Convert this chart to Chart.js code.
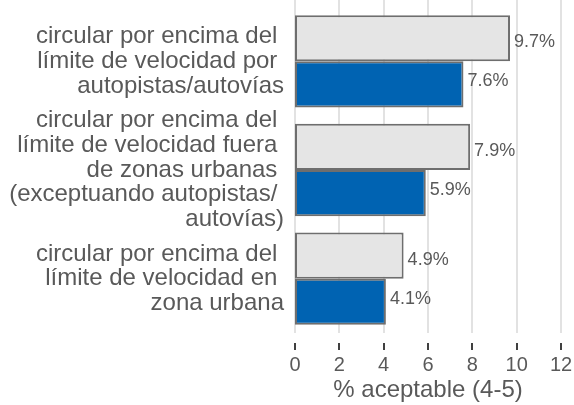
<!DOCTYPE html>
<html>
<head>
<meta charset="utf-8">
<script src="https://cdn.jsdelivr.net/npm/chart.js@4/dist/chart.umd.min.js"></script>
<style>
  html, body { margin: 0; padding: 0; background: #ffffff; }
  #wrap { position: relative; width: 574px; height: 405px; }
</style>
</head>
<body>
<div id="wrap"><canvas id="c" width="574" height="405"></canvas></div>
<script>
// ---- data ----
const categories = [
  ["circular por encima del ", "límite de velocidad por ", "autopistas/autovías"],
  ["circular por encima del ", "límite de velocidad fuera ", "de zonas urbanas ", "(exceptuando autopistas/ ", "autovías)"],
  ["circular por encima del ", "límite de velocidad en ", "zona urbana"]
];
const seriesNames = ["Serie A", "Serie B"];
const seriesA = [9.7, 7.9, 4.9];
const seriesB = [7.6, 5.9, 4.1];
const xTickValues = [0, 2, 4, 6, 8, 10, 12];
const axisTitle = "% aceptable (4-5)";

const TEXT = "#595959";
const FONT = "'Liberation Sans', Arial, sans-serif";

const gridAndTicks = {
  id: 'gridAndTicks',
  beforeDatasetsDraw(chart) {
    const ctx = chart.ctx, xs = chart.scales.x, area = chart.chartArea;
    ctx.save();
    xs.ticks.forEach(t => {
      const px = Math.round(xs.getPixelForValue(t.value));
      ctx.strokeStyle = '#E2E2E2';
      ctx.lineWidth = 2;
      ctx.beginPath();
      ctx.moveTo(px, 0);
      ctx.lineTo(px, area.bottom);
      ctx.stroke();
      ctx.strokeStyle = '#404040';
      ctx.lineWidth = 2;
      ctx.beginPath();
      ctx.moveTo(px, area.bottom + 10);
      ctx.lineTo(px, area.bottom + 17);
      ctx.stroke();
    });
    ctx.restore();
  }
};

const valueLabels = {
  id: 'valueLabels',
  afterDatasetsDraw(chart) {
    const ctx = chart.ctx;
    ctx.save();
    ctx.font = "18px " + FONT;
    ctx.fillStyle = TEXT;
    ctx.textAlign = 'left';
    ctx.textBaseline = 'middle';
    chart.data.datasets.forEach((ds, i) => {
      const meta = chart.getDatasetMeta(i);
      const dy = ds.labelShift || 0;
      meta.data.forEach((el, j) => {
        ctx.fillText(ds.data[j].toFixed(1) + '%', el.x + 4, el.y + dy);
      });
    });
    ctx.restore();
  }
};

new Chart(document.getElementById('c'), {
  type: 'bar',
  data: {
    labels: categories,
    datasets: [
      { label: seriesNames[0], data: seriesA, backgroundColor: '#E5E5E5', borderColor: '#6E6E6E', borderWidth: 2, borderSkipped: false, labelShift: 4 },
      { label: seriesNames[1], data: seriesB, backgroundColor: '#0063B2', borderColor: '#6E6E6E', borderWidth: 2, borderSkipped: false, labelShift: -3 }
    ]
  },
  options: {
    indexAxis: 'y',
    responsive: false,
    animation: false,
    devicePixelRatio: 1,
    layout: { padding: { top: 7, right: 13, bottom: 0, left: 0 } },
    datasets: { bar: { categoryPercentage: 0.85, barPercentage: 1 } },
    plugins: { legend: { display: false }, tooltip: { enabled: false } },
    scales: {
      x: {
        min: 0, max: 12,
        afterBuildTicks: s => { s.ticks = xTickValues.map(v => ({ value: v })); },
        afterFit: s => { s.height = 72; s.paddingLeft = 0; s.paddingRight = 0; },
        grid: { display: false, drawTicks: false },
        border: { display: false },
        ticks: { color: TEXT, font: { family: FONT, size: 20 }, padding: 20, maxRotation: 0 },
        title: { display: true, text: axisTitle, color: TEXT, font: { family: FONT, size: 24, lineHeight: 1.2 }, padding: { top: 0, bottom: 0 } }
      },
      y: {
        afterFit: s => { s.width = 295; s.paddingTop = 0; s.paddingBottom = 0; },
        grid: { display: false, drawTicks: false },
        border: { display: false },
        ticks: { color: TEXT, font: { family: FONT, size: 24, lineHeight: 1.03 }, padding: 11, autoSkip: false }
      }
    }
  },
  plugins: [gridAndTicks, valueLabels]
});
</script>
</body>
</html>
